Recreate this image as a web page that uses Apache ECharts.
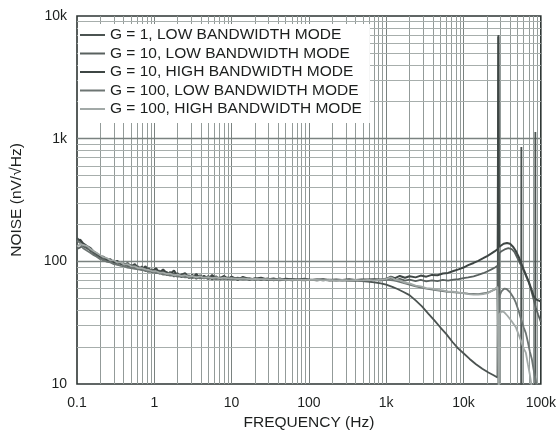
<!DOCTYPE html>
<html>
<head>
<meta charset="utf-8">
<script src="https://cdn.jsdelivr.net/npm/echarts@6/dist/echarts.min.js"></script>
<style>
  html, body { margin: 0; padding: 0; background: #ffffff; }
  #chart { width: 559px; height: 441px; }
</style>
</head>
<body>
<div id="chart"></div>
<script>
// Series names (legend order)
const seriesNames = [
  'G = 1, LOW BANDWIDTH MODE',
  'G = 10, LOW BANDWIDTH MODE',
  'G = 10, HIGH BANDWIDTH MODE',
  'G = 100, LOW BANDWIDTH MODE',
  'G = 100, HIGH BANDWIDTH MODE'
];

// Axis tick labels
const xTickLabels = ['0.1', '1', '10', '100', '1k', '10k', '100k'];
const yTickLabels = ['10', '100', '1k', '10k'];

// Grid line positions: decades plus the 2..9 multiples inside each decade
const xDecades = [0.1, 1, 10, 100, 1000, 10000];
const yDecades = [10, 100, 1000];
const minorSteps = [2, 3, 4, 5, 6, 7, 8, 9];

// Shared low-frequency sweep (Hz)
const lowFreq = [
  0.1, 0.11, 0.12, 0.135, 0.15, 0.165, 0.18, 0.2, 0.22, 0.245,
  0.27, 0.3, 0.33, 0.37, 0.41, 0.45, 0.5, 0.56, 0.62, 0.69,
  0.77, 0.85, 0.95, 1.05, 1.17, 1.3, 1.45, 1.6, 1.8, 2,
  2.25, 2.5, 2.8, 3.1, 3.5, 3.9, 4.4, 5, 5.6, 6.3,
  7.1, 8, 9, 10, 12, 14, 17, 20, 24, 29,
  35, 42, 50, 60, 72, 87, 105, 127, 153, 185,
  225, 270, 330, 400, 480, 580, 700, 850
];

// Noise density (nV/rtHz) over the low-frequency sweep
const g1LowNoise = [
  155, 146, 138, 130, 121, 118, 110, 109, 103, 104,
  99, 101, 94, 98, 91, 95, 88, 93, 86, 91,
  83, 88, 81, 86, 79, 84, 77, 82, 75, 80,
  74, 79, 73, 78, 72, 77, 72.5, 76, 71, 75.5,
  71, 75, 71, 74, 70.5, 73.5, 70.5, 73, 70.5, 72.5,
  70, 72.5, 70, 72, 70.5, 71.5, 70.5, 71, 70, 71,
  70, 70.5, 69.5, 70, 69, 68.5, 67.5, 66
];
const g10LowNoise = [
  126, 130, 133, 127, 124, 114, 115, 106, 107, 101,
  103, 97, 99, 94, 96, 91, 93, 88, 91, 86,
  88, 83, 86, 81, 84, 79, 82, 77, 80, 76,
  78.5, 74.5, 77, 74, 76.5, 73, 75.5, 72.5, 75, 72.5,
  74, 72, 74, 72, 73.5, 71.5, 73, 71, 72.5, 70.5,
  72, 70.5, 71.5, 70.5, 71.5, 70.5, 71, 70, 71, 70,
  70.5, 70, 70.5, 70, 70.5, 70, 70.5, 70
];
const g10HighNoise = [
  145, 150, 140, 133, 128, 120, 116, 110, 109, 103,
  104, 98, 101, 96, 93, 97, 91, 95, 88, 86,
  91, 84, 83, 88, 81, 86, 80, 79, 84, 76,
  78, 80, 74, 73.5, 79, 73, 76, 72, 77.5, 72.5,
  73, 76, 72, 75, 71, 74.5, 71.5, 72, 73.5, 71,
  72.5, 70.5, 72, 71.5, 70.5, 72, 70.5, 71, 71.5, 70.5,
  71, 70.5, 71.5, 70.5, 71, 71, 71.5, 71
];
const g100LowNoise = [
  148, 141, 128, 122, 117, 112, 109, 104, 102, 99,
  98, 95, 94, 92, 91, 89, 88, 87, 86, 85,
  84, 82, 82, 80, 80, 78, 78, 76.5, 76.5, 75,
  75.5, 74, 74.5, 73, 74, 72.5, 73.5, 72, 73, 71.5,
  72.5, 71.5, 72.5, 71, 72, 71, 71.5, 70.5, 71.5, 70.5,
  71, 70, 71, 70, 70.5, 70, 70.5, 70, 70.5, 69.5,
  70, 69.5, 70, 69.5, 70, 69.5, 70, 70
];
const g100HighNoise = [
  132, 138, 136, 133, 126, 121, 117, 112, 108, 106,
  102, 102, 98, 98, 94, 95, 91, 91, 88, 88,
  86, 85, 83, 83, 81, 81, 79, 79.5, 77, 78,
  76, 77, 75, 76, 74, 75.5, 73.5, 74.5, 73, 74,
  72.5, 73.5, 72.5, 73, 72, 72.5, 71.5, 72, 71.5, 71.5,
  71, 71.5, 70.5, 71, 70.5, 71, 70.5, 70.5, 70, 70.5,
  70, 70.5, 70, 70.5, 70, 70.5, 70, 71
];

// High-frequency segments: frequency (Hz) and noise (nV/rtHz)
const g1HighFreq = [1000, 1200, 1400, 1700, 2000, 2400, 2900, 3500, 4200, 5000,
  6000, 7200, 8500, 10000, 12000, 14500, 17500, 21000, 24500, 27500,
  28300, 28700, 55600, 56000, 56400, 84600, 85000, 85400, 100000];
const g1HighVal = [64.5, 62, 59.5, 56, 53, 48, 43, 37.5, 33, 29,
  25.5, 22, 19.5, 17.8, 16, 14.5, 13.3, 12.4, 11.8, 11.3,
  7000, 8, 8, 855, 8, 8, 1135, 8, 8];

const g10LowFreq = [1000, 1150, 1300, 1500, 1750, 2000, 2400, 2800, 3300, 3900,
  4600, 5400, 6300, 7400, 8600, 10000, 11500, 13500, 15500, 18000,
  20500, 23000, 25500, 27500, 28500, 28900, 31000, 34000, 38000, 42000,
  46000, 50000, 54000, 58000, 62000, 66000, 70000, 75000, 80000, 86000,
  92000, 100000];
const g10LowVal = [71, 73, 70, 72, 69.5, 71, 69, 70.5, 68.5, 70,
  69, 70.5, 69.5, 71, 71.5, 73, 74, 75.5, 77.5, 80,
  83, 86, 89, 92, 8, 116, 121, 125, 128, 126,
  118, 106, 96, 88, 80, 73, 67, 58, 50, 42,
  37, 32];

const g10HighFreq = [1000, 1150, 1300, 1500, 1750, 2000, 2400, 2800, 3300, 3900,
  4600, 5400, 6300, 7400, 8600, 10000, 11500, 13500, 15500, 18000,
  20500, 23000, 25500, 27700, 28200, 28800, 30500, 33000, 36500, 40000,
  44000, 48000, 52000, 56000, 60000, 65000, 70000, 75000, 80000, 86000,
  93000, 100000];
const g10HighVal = [72, 75, 73, 76, 73.5, 75.5, 74, 76.5, 75, 77.5,
  77, 79.5, 80.5, 83.5, 86, 89, 93, 97, 101, 106,
  111, 116, 121, 126, 6800, 131, 134, 139, 141, 139,
  131, 120, 108, 96, 86, 76, 68, 60, 53, 49,
  48, 47];

const g100LowFreq = [1000, 1300, 1750, 2400, 3300, 4600, 6300, 8600, 11500, 15500,
  20500, 25500, 27500, 28600, 29200, 31000, 33500, 36000, 40000, 44000,
  47500, 52000, 56000, 60000, 64000, 68000, 72000, 76500, 80000, 84000,
  86000, 89000];
const g100LowVal = [71, 69.5, 66, 62.5, 60, 58, 56.5, 55.5, 54.5, 54,
  55.5, 59, 61, 8, 52, 57, 60, 59.5, 56, 51,
  46, 39, 33, 29, 26, 22, 18.5, 16, 13.5, 11.5,
  10.7, 9];

const g100HighFreq = [1000, 1150, 1300, 1500, 1750, 2000, 2400, 2800, 3300, 3900,
  4600, 5400, 6300, 7400, 8600, 10000, 11500, 13500, 15500, 18000,
  20500, 23000, 25500, 27500, 28600, 29200, 31000, 33500, 37000, 42000,
  47500, 52000, 56000, 60000, 64000, 68000, 72000, 75000, 78000];
const g100HighVal = [72, 74, 71, 70, 67, 66, 63.5, 62.5, 60.5, 60,
  58.5, 58, 56.5, 56.5, 55.5, 55, 54, 53.5, 53.5, 54,
  55, 57, 59.5, 62, 8, 37, 39, 38.5, 36, 32.5,
  29, 25, 22, 19.5, 18, 14.5, 12, 10.2, 8.5];

// Trace colours and widths
const traceColors = ['#4b5351', '#59615f', '#3e4644', '#6d7573', '#a2a9a7'];
const traceWidths = [1.8, 1.8, 2, 1.8, 1.8];

function pairs(xs, ys) {
  const n = Math.min(xs.length, ys.length);
  const out = [];
  for (let i = 0; i < n; i++) out.push([xs[i], ys[i]]);
  return out;
}

const traces = [
  pairs(lowFreq, g1LowNoise).concat(pairs(g1HighFreq, g1HighVal)),
  pairs(lowFreq, g10LowNoise).concat(pairs(g10LowFreq, g10LowVal)),
  pairs(lowFreq, g10HighNoise).concat(pairs(g10HighFreq, g10HighVal)),
  pairs(lowFreq, g100LowNoise).concat(pairs(g100LowFreq, g100LowVal)),
  pairs(lowFreq, g100HighNoise).concat(pairs(g100HighFreq, g100HighVal))
];

// Grid lines drawn as mark lines on the value axes
const gridLines = [];
xDecades.forEach(function (d, i) {
  if (i > 0) gridLines.push({ xAxis: d, lineStyle: { color: '#7a8280', width: 1, type: 'solid' } });
  minorSteps.forEach(function (m) {
    gridLines.push({ xAxis: +(d * m).toPrecision(3), lineStyle: { color: '#939b99', width: 1, type: 'solid' } });
  });
});
yDecades.forEach(function (d, i) {
  if (i > 0) gridLines.push({ yAxis: d, lineStyle: { color: '#7a8280', width: 1.3, type: 'solid' } });
  minorSteps.forEach(function (m) {
    gridLines.push({ yAxis: d * m, lineStyle: { color: '#a7aeac', width: 1, type: 'solid' } });
  });
});

const font = 'Liberation Sans, Arial, sans-serif';
const textColor = '#1c1f1e';

const series = [{
  name: 'grid',
  type: 'line',
  data: [],
  z: 1,
  silent: true,
  markLine: {
    silent: true,
    z: 1,
    symbol: ['none', 'none'],
    label: { show: false },
    lineStyle: { type: 'solid' },
    emphasis: { disabled: true },
    animation: false,
    data: gridLines
  }
}];
seriesNames.forEach(function (name, i) {
  series.push({
    name: name,
    type: 'line',
    data: traces[i],
    showSymbol: false,
    symbol: 'none',
    smooth: false,
    z: 3 + i,
    lineStyle: { color: traceColors[i], width: traceWidths[i] },
    itemStyle: { color: traceColors[i] },
    emphasis: { disabled: true }
  });
});

const chart = echarts.init(document.getElementById('chart'), null, { renderer: 'canvas' });
chart.setOption({
  animation: false,
  backgroundColor: '#ffffff',
  grid: {
    show: true,
    left: 77, right: 17, top: 16, bottom: 57,
    borderColor: '#2d3533',
    borderWidth: 1.6,
    backgroundColor: 'transparent'
  },
  legend: {
    data: seriesNames,
    orient: 'vertical',
    left: 78, top: 24,
    padding: [3, 8, 6, 2],
    itemGap: 2.5,
    itemWidth: 25,
    itemHeight: 2,
    icon: 'rect',
    backgroundColor: '#ffffff',
    selectedMode: false,
    textStyle: { fontFamily: font, fontSize: 15.5, color: textColor }
  },
  xAxis: {
    type: 'log',
    logBase: 10,
    min: 0.1,
    max: 100000,
    splitNumber: 6,
    axisLine: { show: false },
    axisTick: { show: false },
    splitLine: { show: false },
    axisLabel: {
      margin: 12,
      fontFamily: font,
      fontSize: 14,
      color: textColor,
      formatter: function (v) { return xTickLabels[Math.round(Math.log10(v)) + 1]; }
    },
    name: 'FREQUENCY (Hz)',
    nameLocation: 'middle',
    nameGap: 31,
    nameTextStyle: { fontFamily: font, fontSize: 15.5, color: textColor }
  },
  yAxis: {
    type: 'log',
    logBase: 10,
    min: 10,
    max: 10000,
    splitNumber: 3,
    axisLine: { show: false },
    axisTick: { show: false },
    splitLine: { show: false },
    axisLabel: {
      margin: 10,
      fontFamily: font,
      fontSize: 14,
      color: textColor,
      formatter: function (v) { return yTickLabels[Math.round(Math.log10(v)) - 1]; }
    },
    name: 'NOISE (nV/\u221AHz)',
    nameLocation: 'middle',
    nameGap: 52,
    nameRotate: 90,
    nameTextStyle: { fontFamily: font, fontSize: 15.5, color: textColor }
  },
  series: series
});
</script>
</body>
</html>
